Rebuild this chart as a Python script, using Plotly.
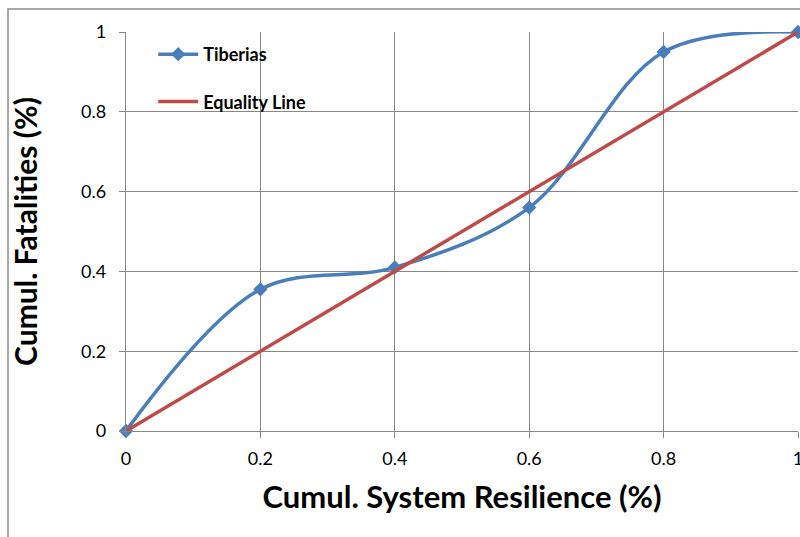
import plotly.graph_objects as go

x_vals = [0, 0.2, 0.4, 0.6, 0.8, 1.0]
tiberias = [0, 0.355, 0.41, 0.56, 0.95, 1.0]
equality_x = [0, 1]
equality_y = [0, 1]
tick_vals = [0, 0.2, 0.4, 0.6, 0.8, 1]
tick_text = ["0", "0.2", "0.4", "0.6", "0.8", "1"]

BLUE = "#4A7EBB"
RED = "#BE4B48"
GRID = "#878787"
FONT = "Lato"

fig = go.Figure()
fig.add_trace(go.Scatter(
    x=x_vals, y=tiberias, name="Tiberias", mode="lines+markers",
    line=dict(color=BLUE, width=3.5, shape="spline", smoothing=1.0),
    marker=dict(symbol="diamond", size=11, color=BLUE),
    legendgroup="a", cliponaxis=False,
))
fig.add_trace(go.Scatter(
    x=equality_x, y=equality_y, name="Equality Line", mode="lines",
    line=dict(color=RED, width=3.5),
    legendgroup="b",
))

fig.update_layout(
    width=800, height=537,
    margin=dict(l=126, r=2, t=32, b=106, autoexpand=False),
    paper_bgcolor="white", plot_bgcolor="white",
    font=dict(family=FONT, color="black"),
    showlegend=True,
    legend=dict(
        x=0.0405, y=0.99, xanchor="left", yanchor="top",
        bgcolor="rgba(0,0,0,0)", traceorder="grouped", tracegroupgap=21,
        font=dict(family=FONT, size=18, color="black", weight="bold"),
        itemwidth=40,
    ),
    shapes=[dict(
        type="rect", xref="paper", yref="paper",
        x0=(8 - 126) / 672, x1=1.2, y0=-0.6, y1=(431 - 9) / 399,
        line=dict(color="#8c8c8c", width=1.5), fillcolor="rgba(0,0,0,0)",
        layer="below",
    )],
)

fig.update_xaxes(
    range=[0, 1], tickvals=tick_vals, ticktext=tick_text,
    showgrid=True, gridcolor=GRID, gridwidth=1.3,
    showline=True, linecolor=GRID, linewidth=1.3,
    ticks="outside", ticklen=6, tickcolor=GRID, tickwidth=1.3,
    tickfont=dict(family=FONT, size=18, color="black"),
    ticklabelstandoff=5, ticklabeloverflow="allow",
    zeroline=False, automargin=False,
    title=dict(text="Cumul. System Resilience (%)", standoff=18,
               font=dict(family=FONT, size=31, color="black", weight="bold")),
)
fig.update_yaxes(
    range=[0, 1], tickvals=tick_vals, ticktext=tick_text,
    showgrid=True, gridcolor=GRID, gridwidth=1.3,
    showline=True, linecolor=GRID, linewidth=1.3,
    ticks="outside", ticklen=6, tickcolor=GRID, tickwidth=1.3,
    tickfont=dict(family=FONT, size=18, color="black"),
    ticklabelstandoff=9,
    zeroline=False, automargin=False,
    title=dict(text="Cumul. Fatalities (%)", standoff=34,
               font=dict(family=FONT, size=30, color="black", weight="bold")),
)

fig.write_html("out.html")
